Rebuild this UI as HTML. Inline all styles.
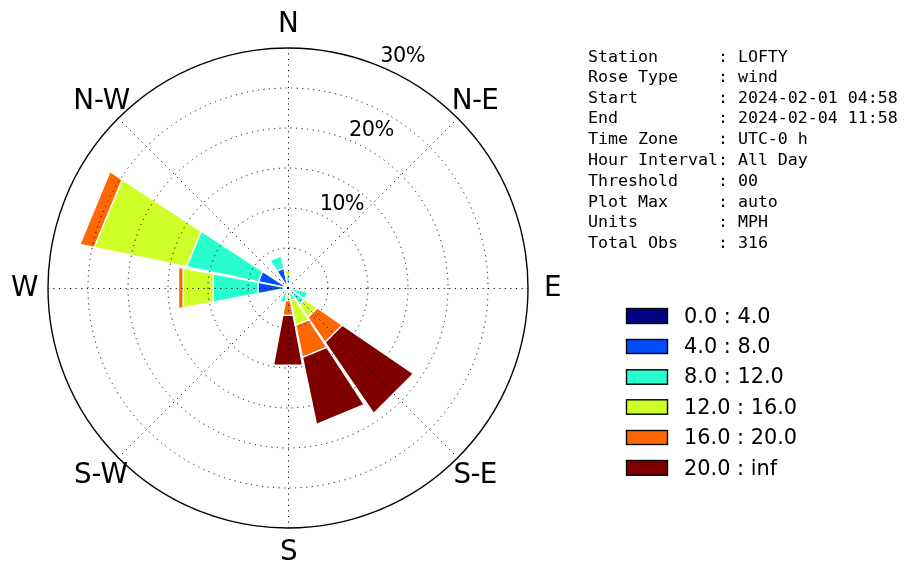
<!DOCTYPE html>
<html lang="en"><head><meta charset="utf-8"><title>Wind Rose - LOFTY</title>
<style>html,body{margin:0;padding:0;background:#fff;overflow:hidden}svg{display:block}</style></head>
<body>
<svg width="907" height="576" viewBox="0 0 907 576">
<rect width="907" height="576" fill="#fff"/>
<g stroke="#fff" stroke-width="1.39" stroke-linejoin="miter">
<polygon fill="#004cff" points="288.00,288.00 276.91,271.05 283.85,268.18 288.00,288.00"/>
<polygon fill="#004cff" points="288.00,288.00 258.26,281.78 262.58,271.37 288.00,288.00"/>
<polygon fill="#004cff" points="288.00,288.00 258.15,293.63 258.15,282.37 288.00,288.00"/>
<polygon fill="#29ffce" points="288.00,288.00 285.65,275.56 290.35,275.56 288.00,288.00"/>
<polygon fill="#29ffce" points="276.91,271.05 269.98,260.46 281.26,255.79 283.85,268.18"/>
<polygon fill="#29ffce" points="258.26,281.78 186.40,266.75 201.13,231.18 262.58,271.37"/>
<polygon fill="#29ffce" points="258.15,293.63 213.12,302.13 213.12,273.87 258.15,282.37"/>
<polygon fill="#29ffce" points="288.00,288.00 281.64,292.16 280.57,289.55 288.00,288.00"/>
<polygon fill="#29ffce" points="288.00,288.00 284.89,302.87 279.69,300.71 288.00,288.00"/>
<polygon fill="#29ffce" points="288.00,288.00 289.41,295.46 286.59,295.46 288.00,288.00"/>
<polygon fill="#29ffce" points="288.00,288.00 294.93,298.59 290.59,300.39 288.00,288.00"/>
<polygon fill="#29ffce" points="288.00,288.00 304.73,299.42 299.42,304.73 288.00,288.00"/>
<polygon fill="#29ffce" points="288.00,288.00 307.82,292.15 304.95,299.09 288.00,288.00"/>
<polygon fill="#ceff29" points="285.65,275.56 284.71,270.59 291.29,270.59 290.35,275.56"/>
<polygon fill="#ceff29" points="186.40,266.75 94.09,247.45 122.21,179.56 201.13,231.18"/>
<polygon fill="#ceff29" points="213.12,302.13 183.14,307.79 183.14,268.21 213.12,273.87"/>
<polygon fill="#ceff29" points="289.41,295.46 290.35,300.44 285.65,300.44 286.59,295.46"/>
<polygon fill="#ceff29" points="294.93,298.59 308.79,319.78 295.77,325.17 290.59,300.39"/>
<polygon fill="#ceff29" points="304.73,299.42 317.28,307.98 307.98,317.28 299.42,304.73"/>
<polygon fill="#ff6800" points="94.09,247.45 79.85,244.47 110.03,171.59 122.21,179.56"/>
<polygon fill="#ff6800" points="183.14,307.79 178.54,308.66 178.54,267.34 183.14,268.21"/>
<polygon fill="#ff6800" points="290.35,300.44 293.16,315.37 282.84,315.37 285.65,300.44"/>
<polygon fill="#ff6800" points="308.79,319.78 326.80,347.32 302.51,357.38 295.77,325.17"/>
<polygon fill="#ff6800" points="317.28,307.98 342.37,325.10 325.10,342.37 307.98,317.28"/>
<polygon fill="#800000" points="293.16,315.37 302.55,365.12 273.45,365.12 282.84,315.37"/>
<polygon fill="#800000" points="326.80,347.32 364.22,404.53 316.50,424.29 302.51,357.38"/>
<polygon fill="#800000" points="342.37,325.10 413.46,373.63 373.63,413.46 325.10,342.37"/>
</g>
<g fill="none" stroke="#000" stroke-width="1" stroke-dasharray="1.1 4.46">
<circle cx="288" cy="288" r="40"/>
<circle cx="288" cy="288" r="80"/>
<circle cx="288" cy="288" r="120"/>
<circle cx="288" cy="288" r="160"/>
<circle cx="288" cy="288" r="200"/>
<line x1="288.5" y1="288" x2="288.50" y2="48.00"/>
<line x1="288" y1="288" x2="457.71" y2="118.29"/>
<line x1="288" y1="288.5" x2="528.00" y2="288.50"/>
<line x1="288" y1="288" x2="457.71" y2="457.71"/>
<line x1="288.5" y1="288" x2="288.50" y2="528.00"/>
<line x1="288" y1="288" x2="118.29" y2="457.71"/>
<line x1="288" y1="288.5" x2="48.00" y2="288.50"/>
<line x1="288" y1="288" x2="118.29" y2="118.29"/>
</g>
<circle cx="288" cy="288" r="240" fill="none" stroke="#000" stroke-width="1.39"/>
<g font-family="'DejaVu Sans', 'Liberation Sans', sans-serif" fill="#000">
<g font-size="27.78" text-anchor="middle">
<text x="288.5" y="32" letter-spacing="0">N</text>
<text x="475" y="109" letter-spacing="-0.6">N-E</text>
<text x="552.8" y="296.1" letter-spacing="0">E</text>
<text x="475.1" y="483" letter-spacing="-0.6">S-E</text>
<text x="288.8" y="560" letter-spacing="0">S</text>
<text x="101" y="483" letter-spacing="0">S-W</text>
<text x="24.75" y="296.1" letter-spacing="0">W</text>
<text x="101.7" y="109" letter-spacing="0">N-W</text>
</g>
<g font-size="20.83" text-anchor="middle" letter-spacing="-0.45">
<text x="341.8" y="210.05" letter-spacing="-0.7">10%</text>
<text x="371.4" y="136.05" letter-spacing="-0.55">20%</text>
<text x="402.65" y="62.07" letter-spacing="-0.5">30%</text>
</g>
<g font-size="20.83">
<rect x="626.5" y="308.50" width="41" height="15.00" fill="#000080" stroke="#000" stroke-width="1.39"/>
<text x="684.1" y="322.70">0.0 : 4.0</text>
<rect x="626.5" y="339.50" width="41" height="14.00" fill="#004cff" stroke="#000" stroke-width="1.39"/>
<text x="684.1" y="353.08">4.0 : 8.0</text>
<rect x="626.5" y="369.80" width="41" height="14.40" fill="#29ffce" stroke="#000" stroke-width="1.39"/>
<text x="684.1" y="383.46">8.0 : 12.0</text>
<rect x="626.5" y="399.80" width="41" height="14.40" fill="#ceff29" stroke="#000" stroke-width="1.39"/>
<text x="684.1" y="413.84">12.0 : 16.0</text>
<rect x="626.5" y="430.50" width="41" height="14.00" fill="#ff6800" stroke="#000" stroke-width="1.39"/>
<text x="684.1" y="444.22">16.0 : 20.0</text>
<rect x="626.5" y="460.50" width="41" height="14.70" fill="#800000" stroke="#000" stroke-width="1.39"/>
<text x="684.1" y="474.60">20.0 : inf</text>
</g>
</g>
<g font-family="'DejaVu Sans Mono', 'Liberation Mono', monospace" font-size="16.67" letter-spacing="-0.035" fill="#000">
<text x="588" y="61.90">Station&#160;&#160;&#160;&#160;&#160;&#160;:&#160;LOFTY</text>
<text x="588" y="82.10">Rose&#160;Type&#160;&#160;&#160;&#160;:&#160;wind</text>
<text x="588" y="103.20">Start&#160;&#160;&#160;&#160;&#160;&#160;&#160;&#160;:&#160;2024-02-01&#160;04:58</text>
<text x="588" y="123.20">End&#160;&#160;&#160;&#160;&#160;&#160;&#160;&#160;&#160;&#160;:&#160;2024-02-04&#160;11:58</text>
<text x="588" y="144.10">Time&#160;Zone&#160;&#160;&#160;&#160;:&#160;UTC-0&#160;h</text>
<text x="588" y="165.20">Hour&#160;Interval:&#160;All&#160;Day</text>
<text x="588" y="186.10">Threshold&#160;&#160;&#160;&#160;:&#160;00</text>
<text x="588" y="207.00">Plot&#160;Max&#160;&#160;&#160;&#160;&#160;:&#160;auto</text>
<text x="588" y="227.20">Units&#160;&#160;&#160;&#160;&#160;&#160;&#160;&#160;:&#160;MPH</text>
<text x="588" y="248.20">Total&#160;Obs&#160;&#160;&#160;&#160;:&#160;316</text>
</g>
</svg>
</body></html>
